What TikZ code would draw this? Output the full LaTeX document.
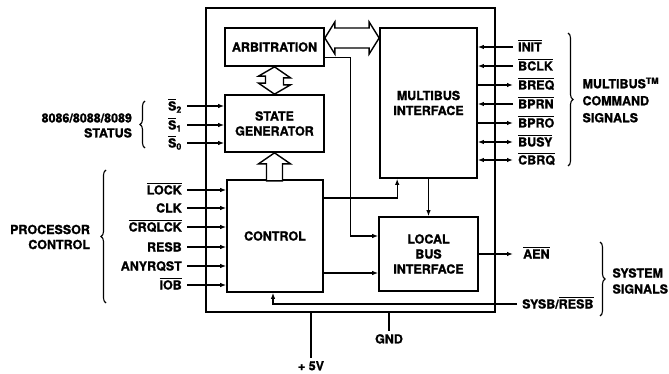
\documentclass[tikz,border=0pt]{standalone}
\usepackage{fontspec}
\setmainfont{TeX Gyre Heros}[BoldFeatures={FakeBold=1.2}]
\usetikzlibrary{arrows.meta, positioning, calc, decorations.pathreplacing}
\newcommand{\ovl}[1]{\leavevmode\vbox{\hrule height 0.9pt\kern 1.1pt\hbox{#1}}}

\begin{document}
\begin{tikzpicture}[x=1pt, y=-1pt, >={Latex[length=6pt,width=4.5pt]},
  font=\fontsize{12.5}{15}\selectfont\bfseries,
  blk/.style={draw, line width=1.7pt, align=center, inner sep=0pt},
  conn/.style={line width=1.2pt},
  fat/.style={draw, line width=1.4pt, fill=white, line join=miter},
  sigl/.style={anchor=east, inner xsep=5pt, inner ysep=0pt,
               text height=9pt, text depth=0pt},
  sigr/.style={sigl, anchor=west},
  grpl/.style={align=right, anchor=east},
  grpr/.style={align=left, anchor=west},
  brc/.style={decorate, decoration={brace, amplitude=5pt}, line width=1.1pt},
]
\useasboundingbox (0,0) rectangle (669,374);

% Chip outline
\node[blk, minimum width=289, minimum height=304] (chip) at (350.5,160) {};

% Function blocks
\node[blk, minimum width=99, minimum height=38] (arb) at (274.5,47) {ARBITRATION};
\node[blk, minimum width=99, minimum height=57] (sg) at (274.5,123.5) {STATE\\GENERATOR};
\node[blk, minimum width=96, minimum height=112] (ctl) at (275,236) {CONTROL};
\node[blk, minimum width=97, minimum height=150] (mbi) at (428.5,103) {MULTIBUS\\INTERFACE};
\node[blk, minimum width=99, minimum height=74] (lbi) at (428.5,254) {LOCAL\\BUS\\INTERFACE};

% Wide buses
\draw[fat] (arb.south) -- ++(16,11) -- ++(-7,0) -- ++(0,7) -- ++(7,0) -- (sg.north)
  -- ++(-16,-11) -- ++(7,0) -- ++(0,-7) -- ++(-7,0) -- cycle;
\draw[fat] (sg.south) -- ++(16,11) -- ++(-8,0) -- ++(0,17) -- ++(-16,0)
  -- ++(0,-17) -- ++(-8,0) -- cycle;
\coordinate (h1) at ($(arb.east)+(0,-9)$);
\coordinate (h2) at (h1 -| mbi.west);
\draw[fat] (h1) -- ++(10,-16) -- ++(0,6) -- ($(h2)+(-10,-10)$) -- ++(0,-6) -- (h2)
  -- ++(-10,16) -- ++(0,-6) -- ($(h1)+(10,10)$) -- ++(0,6) -- cycle;

% Internal connections
\draw[conn,->] ($(arb.south east)+(0,-9)$) -- ++(26,0) |- ($(lbi.west)+(0,-18)$);
\draw[conn,->] ($(ctl.east)+(0,-38)$) -| ($(mbi.south west)+(18,0)$);
\draw[conn,->] (mbi.south) -- (lbi.north);
\draw[conn,->] ($(ctl.east)+(0,37)$) -- ($(lbi.west)+(0,19)$);

% Status inputs
\node[sigl] (s2) at (187,106) {\ovl{S}\textsubscript{2}};
\node[sigl] (s1) at (187,125) {\ovl{S}\textsubscript{1}};
\node[sigl] (s0) at (187,143) {\ovl{S}\textsubscript{0}};
\draw[conn,->] (s2.east) -- (s2.east -| sg.west);
\draw[conn,->] (s1.east) -- (s1.east -| sg.west);
\draw[conn,->] (s0.east) -- (s0.east -| sg.west);

% Processor control inputs
\node[sigl] (lock) at (187,190) {\ovl{LOCK}};
\node[sigl] (clk) at (187,208) {CLK};
\node[sigl] (crqlck) at (187,227) {\ovl{CRQLCK}};
\node[sigl] (resb) at (187,247) {RESB};
\node[sigl] (anyrqst) at (187,266) {ANYRQST};
\node[sigl] (iob) at (187,285) {\ovl{IOB}};
\draw[conn,->] (lock.east) -- (lock.east -| ctl.west);
\draw[conn,->] (clk.east) -- (clk.east -| ctl.west);
\draw[conn,->] (crqlck.east) -- (crqlck.east -| ctl.west);
\draw[conn,->] (resb.east) -- (resb.east -| ctl.west);
\draw[conn,->] (anyrqst.east) -- (anyrqst.east -| ctl.west);
\draw[conn,->] (iob.east) -- (iob.east -| ctl.west);

% Multibus command signals
\node[sigr] (init) at (513,47) {\ovl{INIT}};
\node[sigr] (bclk) at (513,66) {\ovl{BCLK}};
\node[sigr] (breq) at (513,85) {\ovl{BREQ}};
\node[sigr] (bprn) at (513,104) {\ovl{BPRN}};
\node[sigr] (bpro) at (513,123) {\ovl{BPRO}};
\node[sigr] (busy) at (513,142) {\ovl{BUSY}};
\node[sigr] (cbrq) at (513,160) {\ovl{CBRQ}};
\draw[conn,->] (init.west) -- (init.west -| mbi.east);
\draw[conn,->] (bclk.west) -- (bclk.west -| mbi.east);
\draw[conn,->] (breq.west -| mbi.east) -- (breq.west);
\draw[conn,->] (bprn.west) -- (bprn.west -| mbi.east);
\draw[conn,->] (bpro.west -| mbi.east) -- (bpro.west);
\draw[conn,<->] (busy.west -| mbi.east) -- (busy.west);
\draw[conn,<->] (cbrq.west -| mbi.east) -- (cbrq.west);

% System signals
\node[sigr, inner xsep=10pt] (aen) at (513,254) {\ovl{AEN}};
\node[sigr] (sysb) at (517,304) {SYSB/\ovl{RESB}};
\draw[conn,->] (aen.west -| lbi.east) -- (aen.west);
\draw[conn,->] (sysb.west) -| ($(ctl.south)+(-2,0)$);

% Power
\node[anchor=north, inner sep=3pt] (vcc) at (311,358) {+ 5V};
\node[anchor=north, inner sep=3pt] (gnd) at (389,331) {GND};
\draw[conn] (vcc.north |- chip.south) -- (vcc.north);
\draw[conn] (gnd.north |- chip.south) -- (gnd.north);

% Signal groups
\node[grpl] (stat) at (135.5,125.5) {8086/8088/8089\\STATUS};
\draw[brc] (145,148) -- (145,101);
\node[grpl] (proc) at (93.5,237) {PROCESSOR\\CONTROL};
\draw[brc] (106,303) -- (106,170);
\node[grpr] (mbcmd) at (579,100) {MULTIBUS\textsuperscript{TM}\\[2pt]COMMAND\\[2pt]SIGNALS};
\draw[brc] (568,33) -- (568,166);
\node[grpr] (syssig) at (609,281) {SYSTEM\\[1pt]SIGNALS};
\draw[brc] (600,242) -- (600,316);

\end{tikzpicture}
\end{document}
